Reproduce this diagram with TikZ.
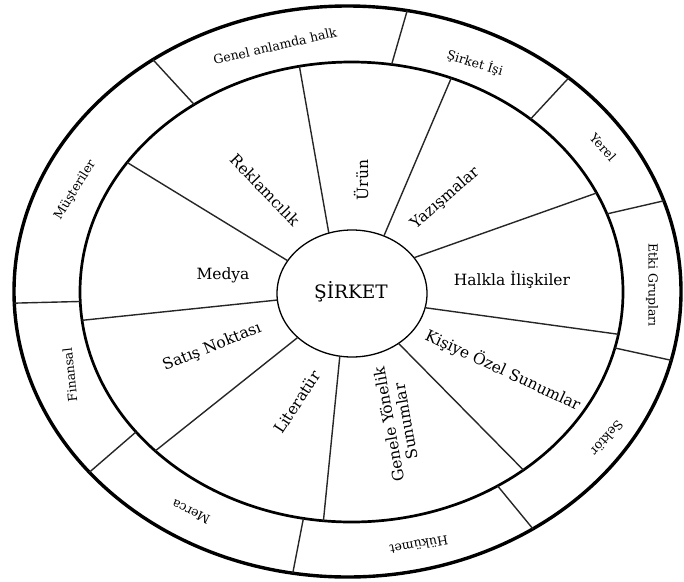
\documentclass[tikz,border=0pt]{standalone}
\usepackage{fontspec}
\setmainfont{DejaVu Serif}
\usetikzlibrary{shapes.geometric}
\begin{document}
\begin{tikzpicture}[x=1pt,y=-1pt,
  ring/.style={ellipse, draw=black, inner sep=0pt, outer sep=0pt},
  spoke/.style={line width=1.4pt, draw=black!85},
  lbl/.style={inner sep=0pt, align=center, font=\fontsize{15.5}{17}\selectfont},
  olbl/.style={inner sep=0pt, font=\fontsize{12.5}{14}\selectfont}]
\useasboundingbox (0,0) rectangle (684,581);

% the three rings
\node[ring, line width=3.4pt, minimum width=667pt, minimum height=571pt] (outer) at (347.5,291.5) {};
\node[ring, line width=2.7pt, minimum width=543pt, minimum height=460pt] (inner) at (351.5,292) {};
\node[ring, line width=1.3pt, minimum width=150pt, minimum height=127pt] (core) at (352,293.5) {};

% spokes of the inner ring
\draw[spoke] (core.111.3) -- (inner.103.7);
\draw[spoke] (core.61.4)  -- (inner.65.1);
\draw[spoke] (core.30.5)  -- (inner.22.2);
\draw[spoke] (core.-11.4) -- (inner.-9.6);
\draw[spoke] (core.-47.7) -- (inner.-46.9);
\draw[spoke] (core.-101)  -- (inner.-97.9);
\draw[spoke] (core.-141.7) -- (inner.-141.7);
\draw[spoke] (core.-175)  -- (inner.-174.5);
\draw[spoke] (core.153.4) -- (inner.150.2);

% spokes of the outer ring
\draw[spoke] (inner.130.6) -- (outer.130);
\draw[spoke] (inner.80.3)  -- (outer.78);
\draw[spoke] (inner.44.8)  -- (outer.44.9);
\draw[spoke] (inner.17)    -- (outer.16.5);
\draw[spoke] (inner.-12.8) -- (outer.-12.8);
\draw[spoke] (inner.-53.2) -- (outer.-52.1);
\draw[spoke] (inner.-102.4) -- (outer.-101);
\draw[spoke] (inner.-147.2) -- (outer.-145.8);
\draw[spoke] (inner.-178.7) -- (outer.-178.2);

% centre
\node[inner sep=0pt, font=\fontsize{18.5}{20}\selectfont] (sirket) at (351,292) {ŞİRKET};

% inner ring labels
\node[lbl, rotate=90]  (urun)  at (361,180) {Ürün};
\node[lbl, rotate=-46] (rek)   at (265,190) {Reklamcılık};
\node[lbl, rotate=41]  (yaz)   at (445,198) {Yazışmalar};
\node[lbl]             (halk)  at (512,280) {Halkla İlişkiler};
\node[lbl, rotate=-25] (kisi)  at (503,370) {Kişiye Özel Sunumlar};
\node[lbl, rotate=100] (genel) at (397,423) {Genele Yönelik\\Sunumlar};
\node[lbl, rotate=57]  (lit)   at (297,402) {Literatür};
\node[lbl, rotate=22]  (satis) at (212,347) {Satış Noktası};
\node[lbl]             (medya) at (223,275) {Medya};

% outer ring labels
\node[olbl, rotate=13]   (gah)   at (275,46)  {Genel anlamda halk};
\node[olbl, rotate=-17]  (si)    at (475,63)  {Şirket İşi};
\node[olbl, rotate=-48]  (yerel) at (603,147) {Yerel};
\node[olbl, rotate=-90]  (etki)  at (652,285) {Etki Grupları};
\node[olbl, rotate=-131] (sektor) at (607,438) {Sektör};
\node[olbl, rotate=190]  (hukumet) at (419,545) {Hükümet};
\node[olbl, rotate=154]  (merca) at (191,512) {Merca};
\node[olbl, rotate=96]   (fin)   at (70,375)  {Finansal};
\node[olbl, rotate=58]   (must)  at (75,190)  {Müşteriler};
\end{tikzpicture}
\end{document}
